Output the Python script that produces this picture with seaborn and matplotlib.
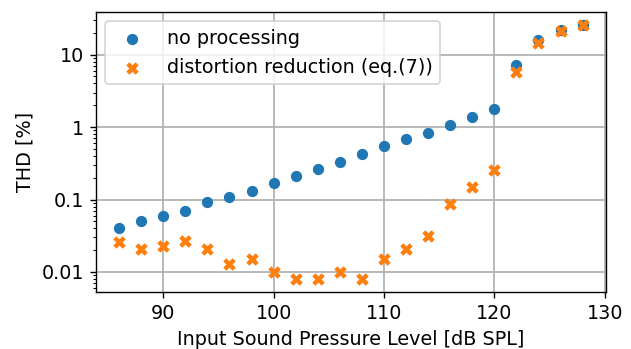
import matplotlib.pyplot as plt
import pandas as pd
import seaborn as sns
from matplotlib.ticker import FuncFormatter

SPL = [86, 88, 90, 92, 94, 96, 98, 100, 102, 104, 106,
       108, 110, 112, 114, 116, 118, 120, 122, 124, 126, 128]
THD_RAW = [0.040, 0.050, 0.060, 0.070, 0.091, 0.11, 0.13, 0.17, 0.21, 0.26, 0.33,
           0.43, 0.54, 0.68, 0.84, 1.07, 1.36, 1.75, 7.1, 16.1, 22.0, 26.0]
THD_REDUCED = [0.026, 0.021, 0.023, 0.027, 0.021, 0.013, 0.015, 0.010, 0.0079, 0.0079, 0.010,
               0.0079, 0.015, 0.021, 0.031, 0.086, 0.149, 0.255, 5.8, 14.5, 21.0, 25.4]
LABELS = ["no processing", "distortion reduction (eq.(7))"]

DPI = 125


def main() -> None:
    plt.rcParams["font.size"] = 11
    df = pd.DataFrame({"spl": SPL, "raw": THD_RAW, "reduced": THD_REDUCED})

    fig, ax = plt.subplots(figsize=(631 / DPI, 349 / DPI), dpi=DPI)
    fig.subplots_adjust(left=0.152, right=0.960, top=0.966, bottom=0.163)

    sns.scatterplot(data=df, x="spl", y="raw", ax=ax, marker="o", s=42,
                    color="#1f77b4", linewidth=0, label=LABELS[0])
    sns.scatterplot(data=df, x="spl", y="reduced", ax=ax, marker="X", s=52,
                    color="#ff7f0e", linewidth=0, label=LABELS[1])

    ax.set_yscale("log")
    ax.yaxis.set_major_formatter(FuncFormatter(lambda v, _: f"{v:g}"))
    ax.set_xticks([90, 100, 110, 120, 130])
    ax.grid(True, which="major", color="#b0b0b0", linewidth=1)
    ax.set_axisbelow(True)
    ax.set_xlabel("Input Sound Pressure Level [dB SPL]")
    ax.set_ylabel("THD [%]")
    ax.legend(loc="upper left")

    fig.savefig("out.png", dpi=DPI)


if __name__ == "__main__":
    main()
